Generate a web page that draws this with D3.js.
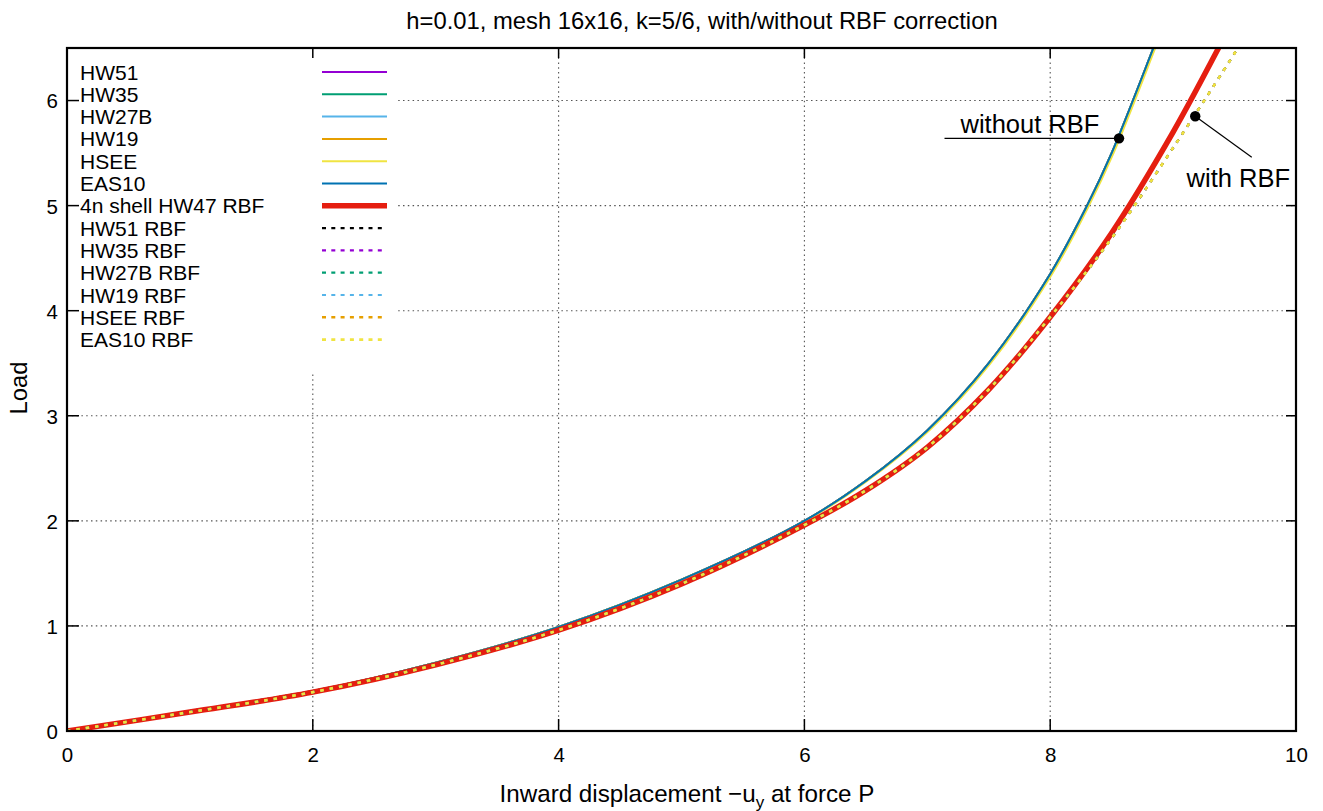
<!DOCTYPE html>
<html>
<head>
<meta charset="utf-8">
<script src="https://cdn.jsdelivr.net/npm/d3@7"></script>
<style>
  html, body { margin: 0; padding: 0; background: #fff; }
  svg { display: block; font-family: "Liberation Sans", Arial, Helvetica, sans-serif; }
</style>
</head>
<body>
<svg id="chart" width="1323" height="811"></svg>
<script>
// ---------------- data ----------------
const titleText = "h=0.01, mesh 16x16, k=5/6, with/without RBF correction";
const xTicks = [0, 2, 4, 6, 8, 10];
const yTicks = [0, 1, 2, 3, 4, 5, 6];
const xDomain = [0, 10];
const yDomain = [0, 6.5];

const seriesNames = ["HW51", "HW35", "HW27B", "HW19", "HSEE", "EAS10",
  "4n shell HW47 RBF", "HW51 RBF", "HW35 RBF", "HW27B RBF", "HW19 RBF", "HSEE RBF", "EAS10 RBF"];

// without RBF correction (plate elements)
const plainDisp = [0, 1, 2, 3, 4, 5, 6, 6.5, 7, 7.5, 8, 8.3, 8.5, 8.84, 8.9];
const plainLoad = [0, 0.19, 0.38, 0.65, 0.99, 1.44, 2.0, 2.38, 2.86, 3.5, 4.35, 5.0, 5.5, 6.5, 6.68];
const hseeDisp  = [0, 1, 2, 3, 4, 5, 6.01, 6.51, 7.015, 7.515, 8.015, 8.315, 8.515, 8.855, 8.915];

// reference 4n shell
const shellDisp = [0, 1, 2, 3, 4, 5, 6, 6.5, 7, 7.5, 8, 8.5, 9, 9.37, 9.42];
const shellLoad = [0, 0.18, 0.37, 0.63, 0.96, 1.40, 1.96, 2.29, 2.70, 3.25, 3.94, 4.74, 5.7, 6.5, 6.61];

// with RBF correction (plate elements)
const rbfDisp = [0, 1, 2, 3, 4, 5, 6, 6.5, 7, 7.5, 8, 8.5, 9, 9.5, 9.55];
const rbfLoad = [0, 0.18, 0.37, 0.63, 0.96, 1.40, 1.96, 2.29, 2.70, 3.25, 3.94, 4.69, 5.55, 6.45, 6.55];

// which data set each series uses
const seriesData = ["plain", "plain", "plain", "plain", "hsee", "plain",
  "shell", "rbf", "rbf", "rbf", "rbf", "rbf", "rbf"];

// annotations (data coordinates)
const annotLabels = ["without RBF", "with RBF"];
const annotPointX = [8.56, 9.18];
const annotPointY = [5.64, 5.85];
const annotLineEndX = [7.14, 9.64];
const annotLineEndY = [5.64, 5.46];
const annotTextX = [7.27, 9.11];
const annotTextY = [5.69, 5.18];

// ---------------- styles ----------------
const seriesColors = ["#9400d3", "#009e73", "#56b4e9", "#e69f00", "#f0e442", "#0072b2",
  "#e51e10", "#000000", "#9400d3", "#009e73", "#56b4e9", "#e69f00", "#f0e442"];
const seriesWidths = [2, 2, 2, 2, 2, 2, 5.5, 2.2, 2.2, 2.2, 2.2, 2.4, 2.6];
const seriesDashed = [false, false, false, false, false, false, false, true, true, true, true, true, true];

const margin = { left: 67, right: 1323 - 1296, top: 48, bottom: 811 - 731 };
const W = 1323, H = 811;
const pw = W - margin.left - margin.right;
const ph = H - margin.top - margin.bottom;

const svg = d3.select("#chart");
const x = d3.scaleLinear().domain(xDomain).range([margin.left, margin.left + pw]);
const y = d3.scaleLinear().domain(yDomain).range([margin.top + ph, margin.top]);

const datasets = {
  plain: plainDisp.map((d, i) => [d, plainLoad[i]]),
  hsee: hseeDisp.map((d, i) => [d, plainLoad[i]]),
  shell: shellDisp.map((d, i) => [d, shellLoad[i]]),
  rbf: rbfDisp.map((d, i) => [d, rbfLoad[i]])
};

svg.append("defs").append("clipPath").attr("id", "clip")
  .append("rect").attr("x", margin.left).attr("y", margin.top).attr("width", pw).attr("height", ph);

// grid
const grid = svg.append("g").attr("stroke", "#555").attr("stroke-width", 1.1)
  .attr("stroke-dasharray", "1.5,3.3");
grid.selectAll("line.gx").data(xTicks.filter(t => t > xDomain[0] && t < xDomain[1])).enter()
  .append("line").attr("x1", d => x(d)).attr("x2", d => x(d))
  .attr("y1", margin.top).attr("y2", margin.top + ph);
grid.selectAll("line.gy").data(yTicks.filter(t => t > yDomain[0] && t < yDomain[1])).enter()
  .append("line").attr("y1", d => y(d)).attr("y2", d => y(d))
  .attr("x1", margin.left).attr("x2", margin.left + pw);

// legend box (opaque)
const legX = margin.left, legY = margin.top;
svg.append("rect").attr("x", legX).attr("y", legY).attr("width", 328).attr("height", 324).attr("fill", "#fff");

// curves
const line = d3.line().x(d => x(d[0])).y(d => y(d[1])).curve(d3.curveCatmullRom.alpha(0.5));
const curves = svg.append("g").attr("clip-path", "url(#clip)");
seriesNames.forEach((name, i) => {
  curves.append("path")
    .datum(datasets[seriesData[i]])
    .attr("d", line)
    .attr("fill", "none")
    .attr("stroke", seriesColors[i])
    .attr("stroke-width", seriesWidths[i])
    .attr("stroke-linejoin", "round")
    .attr("stroke-dasharray", seriesDashed[i] ? "3.5,6" : null);
});

// legend
const leg = svg.append("g");
seriesNames.forEach((name, i) => {
  const ly = 72 + i * 22.3;
  leg.append("text").attr("x", 80).attr("y", ly).attr("dy", "0.36em")
    .attr("font-size", 21).attr("fill", "#000").text(name);
  leg.append("line").attr("x1", 322).attr("x2", 387).attr("y1", ly).attr("y2", ly)
    .attr("stroke", seriesColors[i])
    .attr("stroke-width", seriesWidths[i])
    .attr("stroke-dasharray", seriesDashed[i] ? "4,5.3" : null);
});

// border + ticks (mirror ticks on all sides)
const frame = svg.append("g");
frame.append("rect").attr("x", margin.left).attr("y", margin.top).attr("width", pw).attr("height", ph)
  .attr("fill", "none").attr("stroke", "#000").attr("stroke-width", 2.2);

const tickLen = 12;
const xAxisB = d3.axisBottom(x).tickValues(xTicks).tickSize(0).tickPadding(0).tickFormat(d3.format("d"));
const gxB = frame.append("g").attr("transform", `translate(0,${margin.top + ph})`).call(xAxisB);
gxB.select(".domain").remove();
gxB.selectAll("text").attr("font-size", 20.5).attr("font-family", "Liberation Sans, Arial, sans-serif")
  .attr("fill", "#000").attr("y", 16).attr("dy", "0.71em");

const yAxisL = d3.axisLeft(y).tickValues(yTicks).tickSize(0).tickPadding(0).tickFormat(d3.format("d"));
const gyL = frame.append("g").attr("transform", `translate(${margin.left},0)`).call(yAxisL);
gyL.select(".domain").remove();
gyL.selectAll("text").attr("font-size", 20.5).attr("font-family", "Liberation Sans, Arial, sans-serif")
  .attr("fill", "#000").attr("x", -9).attr("dy", "0.36em");

const ticks = frame.append("g").attr("stroke", "#000").attr("stroke-width", 1.5);
xTicks.forEach(t => {
  ticks.append("line").attr("x1", x(t)).attr("x2", x(t)).attr("y1", margin.top + ph).attr("y2", margin.top + ph - tickLen);
  ticks.append("line").attr("x1", x(t)).attr("x2", x(t)).attr("y1", margin.top).attr("y2", margin.top + tickLen - 2);
});
yTicks.forEach(t => {
  ticks.append("line").attr("y1", y(t)).attr("y2", y(t)).attr("x1", margin.left).attr("x2", margin.left + tickLen);
  ticks.append("line").attr("y1", y(t)).attr("y2", y(t)).attr("x1", margin.left + pw).attr("x2", margin.left + pw - tickLen + 2);
});

// annotations
const ann = svg.append("g");
annotLabels.forEach((lab, i) => {
  ann.append("line").attr("x1", x(annotPointX[i])).attr("y1", y(annotPointY[i]))
    .attr("x2", x(annotLineEndX[i])).attr("y2", y(annotLineEndY[i]))
    .attr("stroke", "#000").attr("stroke-width", 1.2);
  ann.append("circle").attr("cx", x(annotPointX[i])).attr("cy", y(annotPointY[i])).attr("r", 5.2).attr("fill", "#000");
  ann.append("text").attr("x", x(annotTextX[i])).attr("y", y(annotTextY[i]))
    .attr("font-size", 25.5).attr("fill", "#000").text(lab);
});

// title and axis labels
svg.append("text").attr("x", 702).attr("y", 29).attr("text-anchor", "middle")
  .attr("font-size", 23.8).attr("fill", "#000").text(titleText);

const xl = svg.append("text").attr("x", 687).attr("y", 802).attr("text-anchor", "middle")
  .attr("font-size", 24.2).attr("fill", "#000");
xl.append("tspan").text("Inward displacement \u2212u");
xl.append("tspan").attr("font-size", 17).attr("dy", 6).text("y");
xl.append("tspan").attr("dy", -6).text(" at force P");

svg.append("text").attr("transform", "translate(27,388) rotate(-90)").attr("text-anchor", "middle")
  .attr("font-size", 23.8).attr("fill", "#000").text("Load");
</script>
</body>
</html>
